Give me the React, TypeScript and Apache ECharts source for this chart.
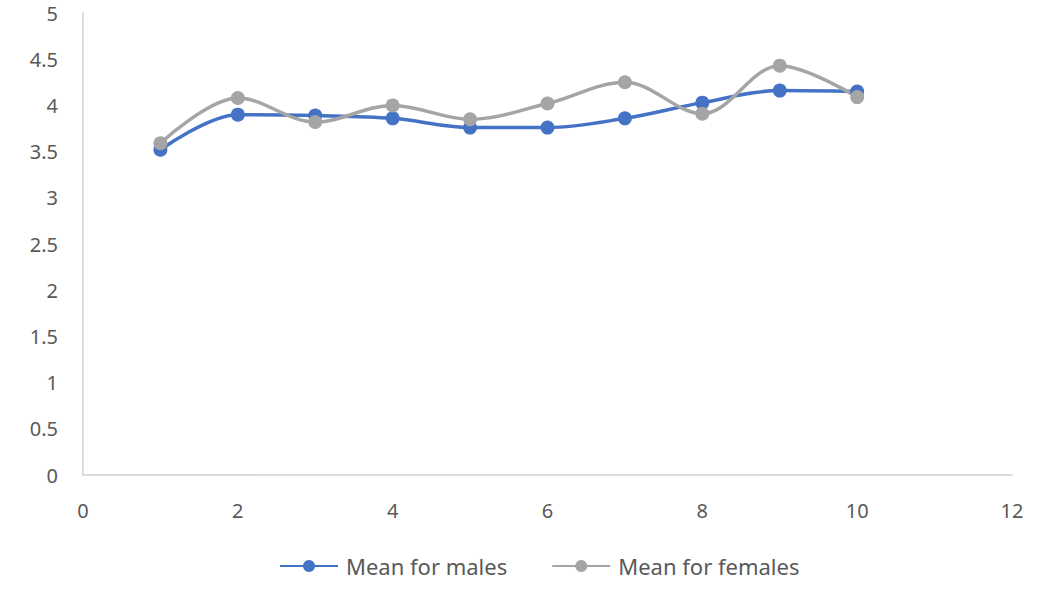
import React, { useEffect, useRef } from "react";
import * as echarts from "echarts";

const xValues = [1, 2, 3, 4, 5, 6, 7, 8, 9, 10];
const malesMean = [3.52, 3.9, 3.89, 3.86, 3.76, 3.76, 3.86, 4.03, 4.16, 4.15];
const femalesMean = [3.59, 4.08, 3.82, 4.0, 3.85, 4.02, 4.25, 3.91, 4.43, 4.09];
const seriesNames = ["Mean for males", "Mean for females"];

export default function App() {
  const ref = useRef<HTMLDivElement>(null);
  useEffect(() => {
    if (!ref.current) return;
    const chart = echarts.init(ref.current, undefined, { renderer: "svg" });
    const labelStyle = { color: "#595959", fontSize: 20, fontFamily: "Noto Sans" };
    const mk = (name: string, vals: number[], color: string) => ({
      name,
      type: "line",
      smooth: 0.35,
      data: xValues.map((x, i) => [x, vals[i]]),
      symbol: "circle",
      symbolSize: 14,
      lineStyle: { color, width: 3.5 },
      itemStyle: { color },
    });
    chart.setOption({
      animation: false,
      backgroundColor: "#ffffff",
      grid: { left: 83, right: 25, top: 13, bottom: 114 },
      xAxis: {
        type: "value",
        min: 0,
        max: 12,
        interval: 2,
        axisLine: { show: true, lineStyle: { color: "#D0D0D0", width: 1.5 } },
        axisTick: { show: false },
        splitLine: { show: false },
        axisLabel: { ...labelStyle, margin: 25 },
      },
      yAxis: {
        type: "value",
        min: 0,
        max: 5,
        interval: 0.5,
        axisLine: { show: true, lineStyle: { color: "#D0D0D0", width: 1.5 } },
        axisTick: { show: false },
        splitLine: { show: false },
        axisLabel: { ...labelStyle, margin: 25 },
      },
      legend: {
        bottom: 7,
        left: 274,
        itemWidth: 58,
        itemHeight: 15,
        itemGap: 44,
        textStyle: { color: "#595959", fontSize: 22, fontFamily: "Noto Sans", padding: [0, 0, 0, 3] },
        data: seriesNames,
      },
      series: [
        mk(seriesNames[0], malesMean, "#4472C4"),
        mk(seriesNames[1], femalesMean, "#A5A5A5"),
      ],
    });
    return () => chart.dispose();
  }, []);
  return (
    <div
      ref={ref}
      style={{ position: "fixed", left: 0, top: 0, width: 1037, height: 589 }}
    />
  );
}
